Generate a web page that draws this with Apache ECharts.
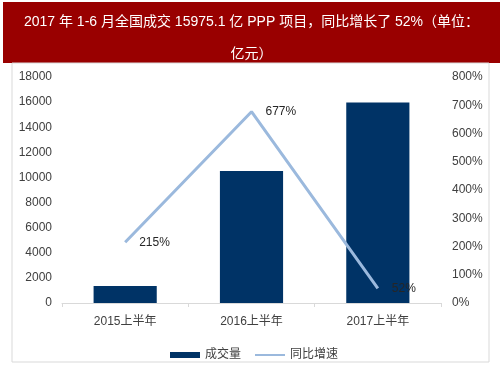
<!DOCTYPE html>
<html>
<head>
<meta charset="utf-8">
<style>
html, body { margin: 0; padding: 0; background: #fff; }
#chart-panel { width: 503px; height: 378px; }
</style>
<script src="https://cdn.jsdelivr.net/npm/echarts@6/dist/echarts.min.js"></script>
</head>
<body>
<div id="chart-panel"></div>
<script type="text/javascript">
// 数据
var categories = ['2015上半年', '2016上半年', '2017上半年'];
var volume = [1352.6, 10510, 15975.1];      // 成交量（亿元）
var growth = [215, 677, 52];                // 同比增速（%）
var leftTicks = { min: 0, max: 18000, interval: 2000 };
var rightTicks = { min: 0, max: 800, interval: 100 };

var font = '"Liberation Sans", "Noto Sans CJK SC", sans-serif';
var myChart = echarts.init(document.getElementById('chart-panel'));

var option = {
    backgroundColor: '#fff',
    animation: false,
    textStyle: { fontFamily: font },
    graphic: [
        {
            type: 'rect',
            shape: { x: 3, y: 2, width: 497, height: 61 },
            style: { fill: '#990000' },
            z: 0
        },
        {
            type: 'rect',
            shape: { x: 12, y: 63, width: 477, height: 299 },
            style: { fill: 'none', stroke: '#d9d9d9', lineWidth: 1 },
            z: 0
        }
    ],
    title: {
        text: '2017 年 1-6 月全国成交 15975.1 亿 PPP 项目，同比增长了 52%（单位：\n亿元）',
        left: 'center',
        top: 1,
        textStyle: {
            color: '#fff',
            fontSize: 14,
            fontWeight: 'normal',
            lineHeight: 32,
            align: 'center',
            fontFamily: font
        }
    },
    legend: {
        bottom: 12,
        left: 165,
        itemWidth: 30,
        itemHeight: 6,
        itemGap: 13,
        textStyle: { fontSize: 12, color: '#404040', fontFamily: font },
        data: [
            { name: '成交量', icon: 'rect' },
            { name: '同比增速' }
        ]
    },
    grid: { left: 62, right: 62, top: 77, bottom: 75 },
    xAxis: {
        type: 'category',
        data: categories,
        axisLine: { lineStyle: { color: '#d9d9d9' } },
        axisTick: { show: true, length: 4, lineStyle: { color: '#d9d9d9' } },
        axisLabel: { color: '#404040', fontSize: 12, margin: 13 }
    },
    yAxis: [
        {
            type: 'value',
            min: leftTicks.min, max: leftTicks.max, interval: leftTicks.interval,
            axisLine: { show: false },
            axisTick: { show: false },
            splitLine: { show: false },
            axisLabel: {
                color: '#404040', fontSize: 12, margin: 10,
                formatter: function (v) { return String(v); }
            }
        },
        {
            type: 'value',
            min: rightTicks.min, max: rightTicks.max, interval: rightTicks.interval,
            axisLine: { show: false },
            axisTick: { show: false },
            splitLine: { show: false },
            axisLabel: { color: '#404040', fontSize: 12, margin: 11, formatter: '{value}%' }
        }
    ],
    series: [
        {
            name: '成交量',
            type: 'bar',
            data: volume,
            barWidth: '50%',
            itemStyle: { color: '#003366' }
        },
        {
            name: '同比增速',
            type: 'line',
            yAxisIndex: 1,
            data: growth,
            symbol: 'circle',
            symbolSize: 2,
            showSymbol: true,
            lineStyle: { color: '#9bb9dd', width: 3 },
            itemStyle: { color: 'rgba(0,0,0,0)', borderWidth: 0 },
            label: {
                show: true,
                position: 'right',
                distance: 13,
                color: '#262626',
                fontSize: 12,
                formatter: '{c}%'
            }
        }
    ]
};

myChart.setOption(option);
</script>
</body>
</html>
